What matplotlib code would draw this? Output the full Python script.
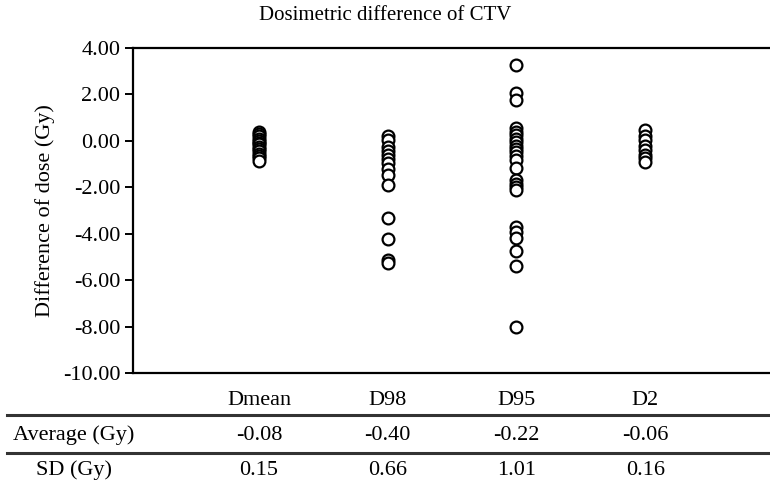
import matplotlib
matplotlib.use("Agg")
import matplotlib.pyplot as plt
from matplotlib.lines import Line2D
from matplotlib.transforms import blended_transform_factory

plt.rcParams['font.family'] = ['Liberation Serif', 'DejaVu Serif']

# datos
categorias = ["Dmean", "D98", "D95", "D2"]
dmean = [0.40, 0.30, 0.22, 0.10, 0.00, -0.08, -0.15, -0.25, -0.35, -0.45, -0.55, -0.65, -0.75, -0.85]
d98 = [0.19, 0.05, -0.25, -0.45, -0.60, -0.80, -0.96, -1.20, -1.47, -1.90, -3.33, -4.22, -5.13, -5.26]
d95 = [3.28, 2.06, 1.77, 0.55, 0.40, 0.25, 0.10, -0.05, -0.20, -0.35, -0.50, -0.65, -0.82,
       -1.18, -1.68, -1.85, -2.00, -2.10, -3.69, -3.91, -4.19, -4.73, -5.37, -8.00]
d2 = [0.45, 0.19, 0.05, -0.20, -0.40, -0.60, -0.75, -0.92]
series = [dmean, d98, d95, d2]
promedios = ["-0.08", "-0.40", "-0.22", "-0.06"]
desviaciones = ["0.15", "0.66", "1.01", "0.16"]
yticks = [4, 2, 0, -2, -4, -6, -8, -10]

fig = plt.figure(figsize=(7.7, 4.86), dpi=100)
ax = fig.add_axes([0.1727, 0.2325, 0.8273, 0.6687])

for i, vals in enumerate(series):
    ax.plot([i + 1] * len(vals), vals, 'o', markersize=8.5, markerfacecolor='white',
            markeredgecolor='black', markeredgewidth=1.6, linestyle='none')

ax.set_xlim(0.02, 4.97)
ax.set_ylim(-10, 4)
ax.set_yticks(yticks)
ax.set_yticklabels([f"{v:.2f}" for v in yticks], fontsize=16)
ax.set_xticks([])
ax.tick_params(axis='y', direction='out', length=6, width=1.4, pad=3)
ax.spines['right'].set_visible(False)
for s in ['left', 'top', 'bottom']:
    ax.spines[s].set_linewidth(1.6)

ax.set_ylabel("Difference of dose (Gy)", fontsize=16, labelpad=6)
fig.text(0.5, 0.968, "Dosimetric difference of CTV", ha='center', va='center', fontsize=15)

# tabla debajo del grafico
tr = blended_transform_factory(ax.transData, fig.transFigure)
def fy(py):
    return 1 - py / 486

for i, cat in enumerate(categorias):
    fig.text(i + 1, fy(400), cat, transform=tr, ha='center', va='center', fontsize=16)
    fig.text(i + 1, fy(435), promedios[i], transform=tr, ha='center', va='center', fontsize=16)
    fig.text(i + 1, fy(470), desviaciones[i], transform=tr, ha='center', va='center', fontsize=16)

fig.text(74 / 770, fy(435), "Average (Gy)", ha='center', va='center', fontsize=16)
fig.text(74 / 770, fy(470), "SD (Gy)", ha='center', va='center', fontsize=16)

for py in [415, 453]:
    fig.add_artist(Line2D([7 / 770, 1], [fy(py), fy(py)], color='#333333', linewidth=2.2))

fig.savefig("out.png", dpi=100)
